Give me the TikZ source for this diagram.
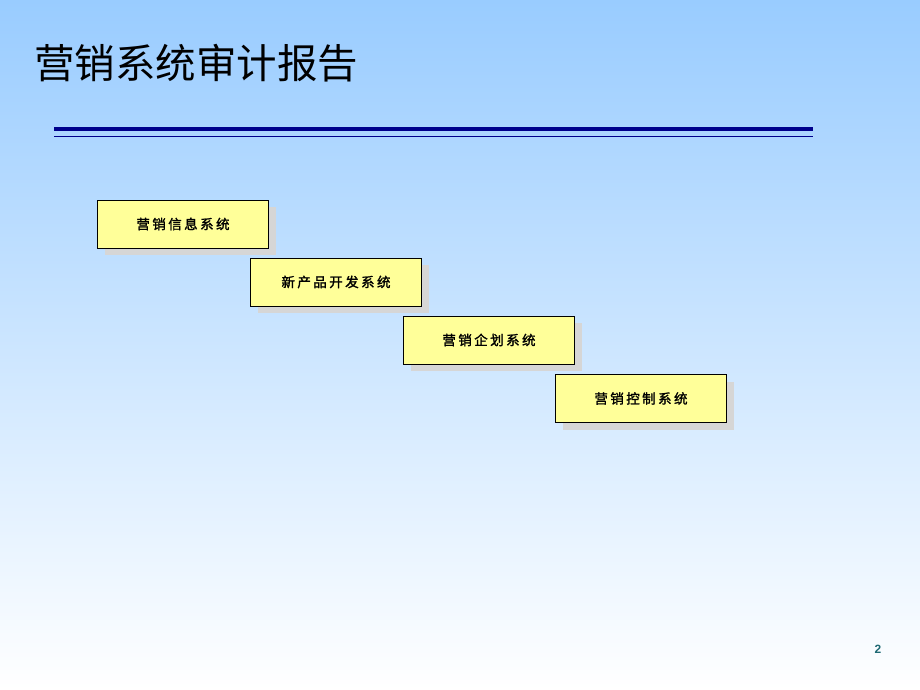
\documentclass[tikz,border=0pt]{standalone}
\usepackage{fontspec}
\usepackage{xcolor}
\usepackage{tikz}
\usetikzlibrary{positioning, shadows}
\newfontfamily\cjk{Noto Sans CJK SC}
\newfontfamily\cjkbold[FakeBold=1.6, LetterSpace=18]{Noto Sans CJK SC}
\newfontfamily\numfont{Liberation Sans}
\definecolor{skytop}{RGB}{153,204,255}
\definecolor{rulenavy}{RGB}{0,0,140}
\definecolor{boxyellow}{RGB}{255,255,153}
\definecolor{pagenum}{RGB}{30,105,115}

\begin{document}
\begin{tikzpicture}[x=1pt, y=-1pt]
		\tikzstyle{sysbox} = [draw=black, line width=0.8pt, fill=boxyellow, minimum width=171pt, minimum height=48pt, inner sep=0pt, font=\cjkbold\fontsize{13.5}{13.5}\selectfont, drop shadow={shadow xshift=7pt, shadow yshift=-7pt, fill=black!16, opacity=1}]
		\tikzstyle{heading} = [anchor=west, inner sep=0pt, font=\cjk\fontsize{40.5}{40.5}\selectfont]

		% background
		\shade[top color=skytop, bottom color=white] (0,0) rectangle (920,690);
		\useasboundingbox (0,0) rectangle (920,690);

		\node[heading] 	at (34, 63) 	(title) 	{营销系统审计报告};

		\draw[rulenavy, line width=4.5pt] (54, 129) -- (813, 129);
		\draw[rulenavy, line width=1pt] (54, 136.5) -- (813, 136.5);

		\node[sysbox] 	at (183, 224) 	(info) 	{营销信息系统};
		\node[sysbox] 	at (336, 282) 	(newprod) 	{新产品开发系统};
		\node[sysbox] 	at (489, 340) 	(plan) 	{营销企划系统};
		\node[sysbox] 	at (641, 398.5) 	(ctrl) 	{营销控制系统};

		\node[font=\numfont\bfseries\fontsize{12}{12}\selectfont, text=pagenum] at (878, 649) (page) {2};
	\end{tikzpicture}
\end{document}
